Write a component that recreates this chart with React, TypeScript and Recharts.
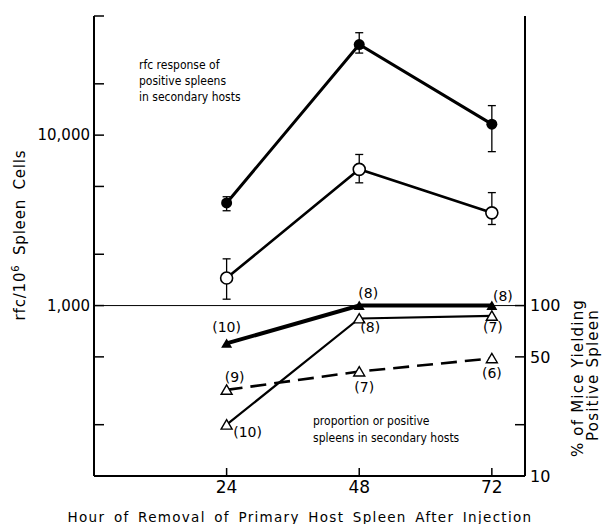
import React from "react";
import {
  ComposedChart,
  Line,
  XAxis,
  YAxis,
  ErrorBar,
  ReferenceLine,
  Customized,
} from "recharts";

// hours after injection
const hours = [24, 48, 72];

// rfc/10^6 spleen cells, positive spleens (filled circles)
const posRfc = [4000, 34000, 11600];
const posRfcLow = [3600, 30300, 8000];
const posRfcHigh = [4350, 39900, 14900];

// rfc/10^6 spleen cells (open circles)
const allRfc = [1450, 6300, 3500];
const allRfcLow = [1090, 5250, 2990];
const allRfcHigh = [1880, 7700, 4600];

// % of mice yielding positive spleen, with n per point
const pctFilledTri = [60, 100, 100];
const nFilledTri = [10, 8, 8];
const pctOpenTri = [20, 84, 87];
const nOpenTri = [10, 8, 7];
const pctDashedTri = [32, 41, 49];
const nDashedTri = [9, 7, 6];

const leftTicks = [200, 500, 1000, 2000, 5000, 10000, 20000, 50000];
const leftTickLabels: Record<number, string> = { 1000: "1,000", 10000: "10,000" };
const rightTicks = [10, 20, 50, 100];
const rightTickLabels: Record<number, string> = { 10: "10", 50: "50", 100: "100" };
const hourTicks = [24, 48, 72];

const data = hours.map((h, i) => ({
  hour: h,
  pos: posRfc[i],
  posErr: [posRfc[i] - posRfcLow[i], posRfcHigh[i] - posRfc[i]],
  all: allRfc[i],
  allErr: [allRfc[i] - allRfcLow[i], allRfcHigh[i] - allRfc[i]],
  filledTri: pctFilledTri[i],
  openTri: pctOpenTri[i],
  dashedTri: pctDashedTri[i],
}));

const FONT = "'DejaVu Sans', sans-serif";
const NOTE_FONT = "'DejaVu Sans Condensed', 'DejaVu Sans', sans-serif";

const filledCircle = (p: any) => (
  <circle key={`fc-${p.index}`} cx={p.cx} cy={p.cy} r={5.5} fill="#000" />
);
const openCircle = (p: any) => (
  <circle
    key={`oc-${p.index}`}
    cx={p.cx}
    cy={p.cy}
    r={6}
    fill="#fff"
    stroke="#000"
    strokeWidth={1.6}
  />
);
const triPath = (cx: number, cy: number, s: number) =>
  `M${cx - s},${cy + s * 0.8} L${cx + s},${cy + s * 0.8} L${cx},${cy - s * 0.9} Z`;
const filledTriangle = (p: any) => (
  <path key={`ft-${p.index}`} d={triPath(p.cx, p.cy, 5.5)} fill="#000" />
);
const openTriangle = (p: any) => (
  <path
    key={`ot-${p.index}`}
    d={triPath(p.cx, p.cy, 5.5)}
    fill="#fff"
    stroke="#000"
    strokeWidth={1.4}
  />
);

// count labels "(n)" beside each triangle point
const countLabel =
  (counts: number[], offsets: [number, number][], id: string) => (p: any) => {
    const [dx, dy] = offsets[p.index];
    return (
      <text
        key={`${id}-${p.index}`}
        x={p.x + dx}
        y={p.y + dy}
        textAnchor="middle"
        dominantBaseline="central"
        fontFamily={FONT}
        fontSize={14}
        fill="#000"
      >
        ({counts[p.index]})
      </text>
    );
  };

const Notes = () => (
  <g fontFamily={NOTE_FONT} fontSize={12} fill="#000">
    <text x={139} y={69}>rfc response of</text>
    <text x={139} y={85}>positive spleens</text>
    <text x={139} y={101}>in secondary hosts</text>
    <text x={313} y={425}>proportion or positive</text>
    <text x={313} y={442}>spleens in secondary hosts</text>
    <text
      transform="translate(25,235) rotate(-90)"
      textAnchor="middle"
      fontFamily={FONT}
      fontSize={15}
      letterSpacing={0.8}
      wordSpacing={4}
    >
      rfc/10
      <tspan dy={-6} fontSize={10}>
        6
      </tspan>
      <tspan dy={6}> Spleen Cells</tspan>
    </text>
    <text
      transform="translate(583,378) rotate(-90)"
      textAnchor="middle"
      fontFamily={FONT}
      fontSize={15}
      letterSpacing={1.2}
    >
      % of Mice Yielding
    </text>
    <text
      transform="translate(598,375) rotate(-90)"
      textAnchor="middle"
      fontFamily={FONT}
      fontSize={15}
      letterSpacing={1.2}
    >
      Positive Spleen
    </text>
    <text
      x={300}
      y={522}
      textAnchor="middle"
      fontFamily={FONT}
      fontSize={13.5}
      letterSpacing={1.3}
      wordSpacing={3}
    >
      Hour of Removal of Primary Host Spleen After Injection
    </text>
  </g>
);

const yTickStyle = { fontFamily: FONT, fontSize: 15, fill: "#000" };
const rTickStyle = { fontFamily: FONT, fontSize: 16, fill: "#000" };
const xTickStyle = { fontFamily: FONT, fontSize: 17, fill: "#000" };

export default function App() {
  return (
    <div style={{ position: "absolute", left: 0, top: 0, background: "#fff" }}>
      <ComposedChart
        width={602}
        height={524}
        data={data}
        margin={{ top: 16, right: 0, bottom: 0, left: 0 }}
      >
        <XAxis
          dataKey="hour"
          type="number"
          domain={[0, 78]}
          ticks={hourTicks}
          height={48}
          tickSize={-8}
          tickMargin={13}
          axisLine={{ stroke: "#000", strokeWidth: 2 }}
          tickLine={{ stroke: "#000", strokeWidth: 1.5 }}
          tick={xTickStyle}
        />
        <YAxis
          yAxisId="left"
          scale="log"
          type="number"
          domain={[100, 50000]}
          allowDataOverflow
          ticks={leftTicks}
          width={94}
          tickSize={-10}
          tickMargin={14}
          interval={0}
          tickFormatter={(v: number) => leftTickLabels[v] ?? ""}
          axisLine={{ stroke: "#000", strokeWidth: 2 }}
          tickLine={{ stroke: "#000", strokeWidth: 1.5 }}
          tick={yTickStyle}
        />
        <YAxis
          yAxisId="right"
          orientation="right"
          scale="log"
          type="number"
          domain={[10, 5000]}
          allowDataOverflow
          ticks={rightTicks}
          width={77}
          tickSize={-10}
          tickMargin={15}
          interval={0}
          tickFormatter={(v: number) => rightTickLabels[v] ?? ""}
          axisLine={{ stroke: "#000", strokeWidth: 2 }}
          tickLine={{ stroke: "#000", strokeWidth: 1.5 }}
          tick={rTickStyle}
        />
        <ReferenceLine yAxisId="left" y={1000} stroke="#000" strokeWidth={1} />
        <Line
          yAxisId="left"
          dataKey="pos"
          stroke="#000"
          strokeWidth={3}
          dot={filledCircle}
          activeDot={false}
          isAnimationActive={false}
        >
          <ErrorBar dataKey="posErr" width={4} stroke="#000" strokeWidth={1.3} />
        </Line>
        <Line
          yAxisId="left"
          dataKey="all"
          stroke="#000"
          strokeWidth={2.6}
          dot={openCircle}
          activeDot={false}
          isAnimationActive={false}
        >
          <ErrorBar dataKey="allErr" width={4} stroke="#000" strokeWidth={1.3} />
        </Line>
        <Line
          yAxisId="right"
          dataKey="dashedTri"
          stroke="#000"
          strokeWidth={2.6}
          strokeDasharray="16 8"
          dot={openTriangle}
          activeDot={false}
          isAnimationActive={false}
          label={countLabel(nDashedTri, [[8, -13], [5, 15], [0, 15]], "dl")}
        />
        <Line
          yAxisId="right"
          dataKey="openTri"
          stroke="#000"
          strokeWidth={2.2}
          dot={openTriangle}
          activeDot={false}
          isAnimationActive={false}
          label={countLabel(nOpenTri, [[21, 7], [11, 9], [1, 11]], "ol")}
        />
        <Line
          yAxisId="right"
          dataKey="filledTri"
          stroke="#000"
          strokeWidth={4}
          dot={filledTriangle}
          activeDot={false}
          isAnimationActive={false}
          label={countLabel(nFilledTri, [[0, -16], [9, -13], [11, -10]], "fl")}
        />
        <Customized component={Notes} />
      </ComposedChart>
    </div>
  );
}
